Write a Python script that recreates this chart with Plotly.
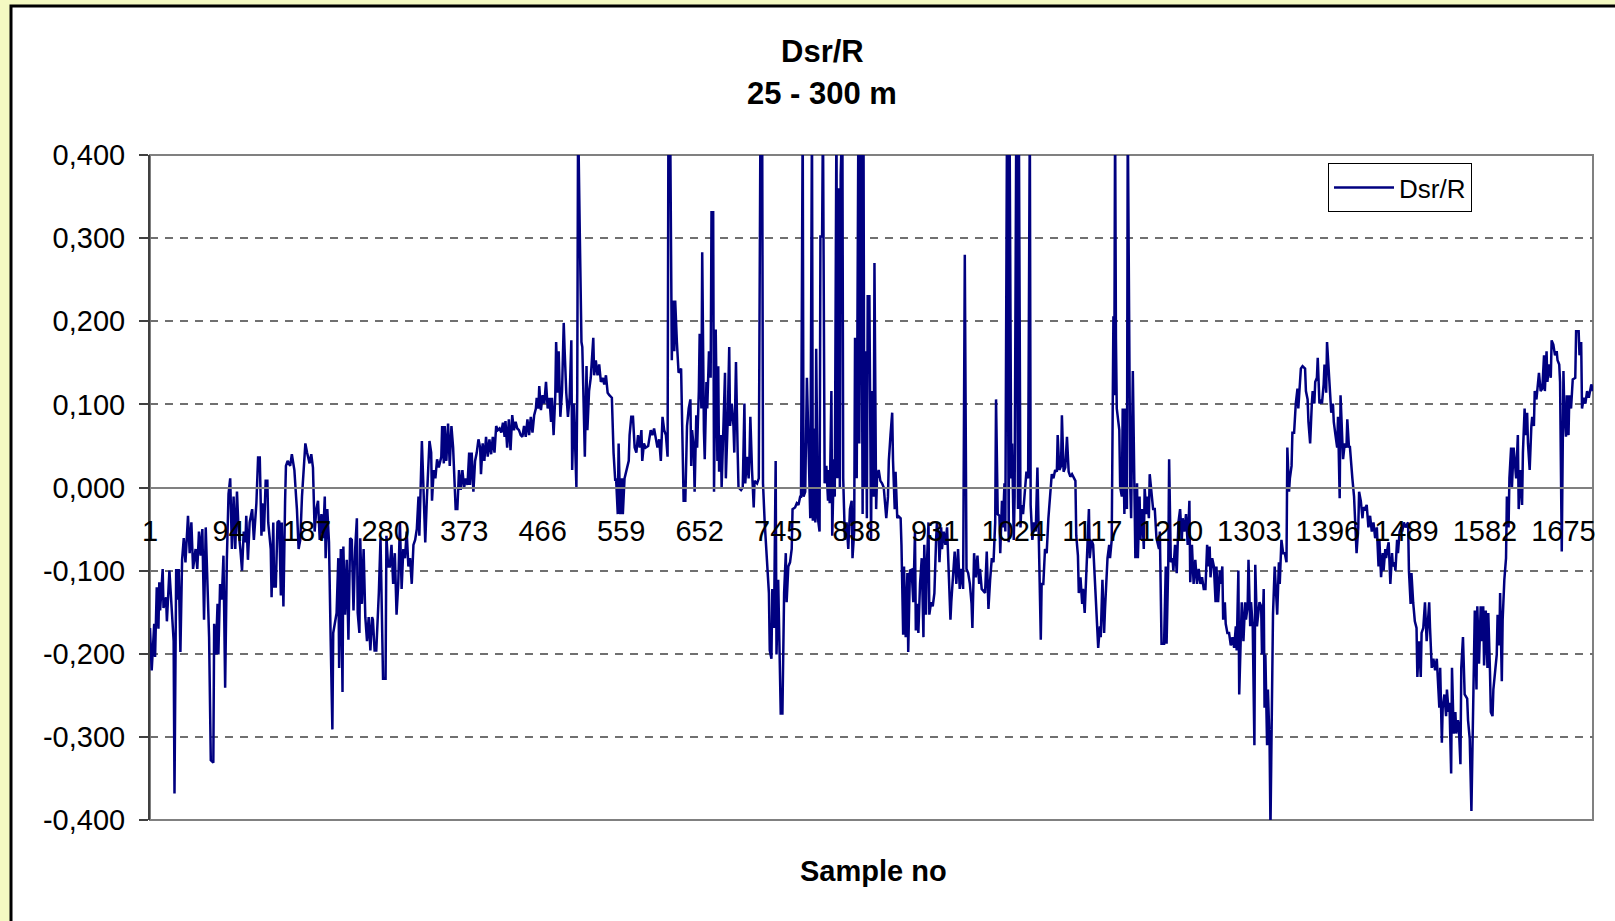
import plotly.graph_objects as go

# ---- data (sample number, Dsr/R value) ----
# values above 0.4 are clipped spikes in the reference
readings = [
(1,-0.169),(3,-0.22),(6,-0.164),(7,-0.204),(9,-0.12),(11,-0.17),(12,-0.114),(13,-0.148),(16,-0.098),(17,-0.145),
(20,-0.132),(21,-0.161),(24,-0.10),(27,-0.159),(29,-0.185),(30,-0.368),(32,-0.098),(34,-0.135),(35,-0.098),(37,-0.198),
(39,-0.087),(41,-0.061),(43,-0.09),(46,-0.034),(48,-0.079),(50,-0.042),(52,-0.098),(55,-0.074),(57,-0.098),(59,-0.053),
(61,-0.082),(63,-0.05),(65,-0.159),(67,-0.048),(70,-0.159),(71,-0.18),(73,-0.328),(76,-0.331),(77,-0.164),(79,-0.201),
(81,-0.14),(82,-0.201),(84,-0.116),(86,-0.135),(88,-0.082),(90,-0.241),(92,-0.087),(94,-0.008),(96,0.011),(98,-0.074),
(100,-0.011),(102,-0.074),(104,-0.005),(106,-0.053),(108,-0.074),(110,-0.10),(112,-0.053),(114,-0.066),(115,-0.034),(117,-0.087),
(119,-0.042),(122,-0.026),(124,-0.063),(127,-0.019),(129,0.036),(131,0.036),(133,-0.058),(134,-0.019),(136,-0.053),(138,0.008),
(140,0.008),(141,-0.042),(144,-0.074),(145,-0.132),(147,-0.042),(148,-0.119),(150,-0.119),(152,-0.042),(154,-0.04),(156,-0.13),
(157,-0.042),(159,-0.143),(161,-0.016),(162,0.026),(164,0.032),(167,0.026),(169,0.04),(172,0.021),(174,-0.011),(175,-0.026),
(177,-0.074),(179,-0.063),(181,-0.011),(183,0.026),(185,0.053),(187,0.042),(190,0.029),(192,0.04),(194,0.024),(196,-0.053),
(198,-0.026),(200,-0.016),(202,-0.063),(204,-0.032),(206,-0.061),(208,-0.011),(209,-0.085),(211,-0.026),(213,-0.066),(215,-0.185),
(217,-0.291),(218,-0.175),(220,-0.164),(222,-0.151),(224,-0.085),(225,-0.217),(227,-0.074),(229,-0.246),(230,-0.071),(232,-0.153),
(234,-0.087),(236,-0.183),(238,-0.061),(240,-0.063),(242,-0.148),(244,-0.074),(246,-0.037),(247,-0.151),(249,-0.175),(250,-0.061),
(252,-0.14),(254,-0.074),(256,-0.156),(258,-0.185),(260,-0.156),(262,-0.196),(264,-0.156),(265,-0.159),(267,-0.196),(269,-0.196),
(272,-0.127),(274,-0.061),(277,-0.23),(280,-0.23),(281,-0.058),(283,-0.095),
(285,-0.095),(287,-0.069),(289,-0.116),(291,-0.079),(293,-0.153),(295,-0.116),(297,-0.042),(299,-0.122),(301,-0.074),(303,-0.085),
(305,-0.053),(307,-0.095),(309,-0.085),(311,-0.116),(313,-0.069),(315,-0.063),(317,-0.05),(319,-0.011),(320,-0.058),(322,0.048),
(323,0.056),(325,-0.005),(327,-0.066),(329,-0.011),(331,0.026),(332,0.056),(334,0.042),(335,-0.016),(337,0.021),(339,0.011),
(341,0.034),(343,0.024),(346,0.037),(347,0.074),(349,0.029),(350,0.074),(352,0.032),(354,0.077),(356,0.026),(358,0.074),
(360,0.048),(362,0.003),(363,-0.026),(365,-0.026),(367,0.021),(369,-0.003),(371,0.021),(373,0.0),(375,0.011),(377,0.003),
(379,0.042),(380,0.003),(382,0.042),(384,-0.005),(386,0.032),(388,0.042),(390,0.058),(392,0.048),(393,0.016),(395,0.053),
(397,0.032),(399,0.061),(401,0.037),(403,0.058),(405,0.04),(407,0.061),(409,0.042),(411,0.074),(413,0.069),(415,0.071),
(417,0.066),(419,0.078),(421,0.061),(422,0.08),(424,0.048),(426,0.082),(428,0.045),(430,0.087),(432,0.069),(434,0.079),
(436,0.071),(438,0.069),(440,0.063),(442,0.061),(444,0.074),(446,0.061),(448,0.082),(450,0.063),(452,0.085),(454,0.066),
(456,0.087),(458,0.095),(459,0.108),(461,0.095),(462,0.122),(464,0.093),(466,0.111),(468,0.101),(470,0.127),(472,0.095),
(474,0.108),(476,0.079),(477,0.108),(479,0.063),(481,0.111),(482,0.175),(484,0.114),(485,0.164),(487,0.085),(489,0.116),
(491,0.198),(492,0.167),(494,0.114),(496,0.085),(498,0.108),(500,0.177),(501,0.021),(503,0.101),(504,0.074),(506,0.0),
(507,0.116),(508,0.45),(510,0.307),(512,0.175),(513,0.169),(516,0.037),(518,0.146),(519,0.069),(521,0.116),(523,0.132),
(526,0.18),(527,0.135),(529,0.153),(531,0.135),(533,0.148),(535,0.127),(537,0.132),(539,0.124),(541,0.135),(543,0.114),
(545,0.111),(548,0.108),(550,0.042),(552,0.008),(553,0.011),(555,-0.032),(556,0.053),(558,-0.032),(560,0.011),(561,-0.032),
(563,0.011),(565,0.021),(568,0.032),(569,0.063),(571,0.085),(573,0.085),(575,0.048),
(577,0.042),(579,0.063),(581,0.048),(583,0.069),(584,0.032),(586,0.053),(588,0.048),(591,0.05),(594,0.069),(596,0.063),
(598,0.071),(600,0.061),(602,0.048),(604,0.058),(606,0.032),(608,0.085),(610,0.069),(612,0.063),(614,0.037),(615,0.45),
(617,0.45),(619,0.153),(620,0.225),(622,0.164),(623,0.225),(625,0.175),(627,0.138),(630,0.143),(631,0.069),(633,-0.016),
(635,-0.016),(637,0.074),(639,0.095),(641,0.106),(642,0.026),(643,0.069),(645,0.048),(646,-0.005),(648,0.087),(649,0.048),
(651,0.116),(652,0.185),(654,0.095),(655,0.283),(657,0.069),(658,0.034),(660,0.127),(661,0.095),(663,0.164),(665,0.132),
(666,0.331),(668,0.331),(669,-0.005),(671,0.19),(673,0.032),(674,0.146),(675,0.019),(677,0.063),(678,0.0),(680,0.063),
(682,0.138),(683,0.011),(685,0.074),(687,0.169),(688,0.074),(690,0.101),(692,0.074),(693,0.042),(695,0.151),(697,0.042),
(698,0.0),(701,-0.003),(703,0.0),(705,0.101),(706,0.005),(708,0.037),(710,0.011),(711,0.037),(712,0.085),(714,0.021),
(716,-0.024),(717,0.008),(720,0.005),(722,0.011),(724,0.45),(726,0.45),(727,0.005),(729,-0.042),(731,-0.079),(734,-0.127),
(735,-0.196),(737,-0.206),(738,-0.122),(740,-0.169),(742,0.032),(743,-0.201),(745,-0.111),(746,-0.169),(748,-0.272),(750,-0.272),
(752,-0.127),(754,-0.079),(755,-0.138),(757,-0.095),(759,-0.09),(761,-0.074),(762,-0.026),(765,-0.024),(767,-0.019),(769,-0.021),
(771,-0.011),(772,-0.011),(774,0.45),(775,-0.011),(777,-0.005),(779,0.132),(781,0.042),(783,-0.037),(785,0.45),(786,-0.04),
(787,0.071),(789,-0.042),(790,0.167),(792,-0.037),(794,-0.053),(795,0.302),(797,0.302),(798,0.45),(800,0.005),(802,0.026),
(804,-0.016),(805,0.021),(806,-0.019),(808,0.116),(809,-0.058),(811,0.034),(812,-0.011),(814,0.45),(815,0.011),(817,0.36),
(818,0.0),(819,0.376),(821,0.45),(822,0.011),(824,-0.063),(826,-0.042),(828,-0.074),(830,-0.026),(832,-0.016),(833,-0.085),
(835,-0.053),(836,0.18),(838,0.011),(840,0.45),(841,0.053),(843,0.45),(845,-0.032),(846,0.45),(847,0.0),(849,0.164),
(850,-0.037),(851,0.23),(853,0.23),(855,-0.063),(856,0.116),(858,-0.011),(859,0.27),(861,-0.026),(862,0.011),(864,0.021),
(866,0.008),(868,0.005),(870,0.0),(872,-0.026),(873,-0.037),(875,-0.011),(876,0.032),(878,0.063),(880,0.09),(881,0.032),
(883,-0.026),(884,0.019),(886,-0.037),(887,-0.034),(890,-0.037),(891,-0.069),(893,-0.177),(894,-0.095),(896,-0.18),(898,-0.103),
(899,-0.198),(901,-0.1),(903,-0.099),(905,-0.138),(907,-0.053),(908,-0.172),(910,-0.14),(911,-0.175),(913,-0.116),(915,-0.085),
(917,-0.18),(918,-0.069),(920,-0.153),(921,-0.095),(923,-0.042),(924,-0.153),(926,-0.138),(928,-0.143),(930,-0.127),(932,-0.063),
(933,-0.042),(935,-0.058),(936,-0.09),(938,-0.048),(939,-0.074),(941,-0.053),(943,-0.069),(945,-0.048),(947,-0.095),(949,-0.159),
(950,-0.138),(952,-0.111),(954,-0.077),(956,-0.116),(958,-0.074),(960,-0.122),(962,-0.098),(964,-0.122),(966,0.28),(968,-0.098),
(970,-0.103),(972,-0.116),(974,-0.14),(975,-0.169),(977,-0.079),(979,-0.108),(981,-0.082),(983,-0.116),(984,-0.098),(986,-0.122),
(988,-0.124),(990,-0.127),(992,-0.077),(994,-0.146),(996,-0.111),(998,-0.085),(1000,-0.09),(1002,-0.042),(1003,0.106),(1005,-0.032),
(1007,-0.034),(1008,-0.079),(1010,-0.016),(1011,-0.048),(1013,0.005),(1014,-0.053),(1016,0.45),(1018,-0.066),(1019,0.45),(1021,0.011),
(1022,0.053),(1024,-0.063),(1025,-0.011),(1027,0.45),(1029,-0.026),(1030,0.45),(1032,-0.048),(1033,-0.021),(1035,-0.032),(1037,0.0),
(1039,0.019),(1041,0.011),(1043,0.45),(1044,-0.021),(1046,-0.063),(1048,-0.042),(1050,-0.053),(1052,0.024),(1054,-0.063),(1056,-0.183),
(1057,-0.116),(1059,-0.116),(1061,-0.074),(1063,-0.079),(1065,-0.037),(1067,-0.005),(1069,0.016),(1071,0.011),(1073,0.021),(1075,0.019),
(1076,0.063),(1078,0.021),(1080,0.026),(1081,0.087),(1083,0.019),(1085,0.024),(1087,0.061),(1089,0.019),(1091,0.013),(1093,0.016),
(1095,0.011),(1097,0.008),(1098,-0.058),(1100,-0.082),(1101,-0.127),(1103,-0.108),(1105,-0.14),(1106,-0.122),(1108,-0.151),(1109,-0.122),
(1111,-0.082),(1113,-0.026),(1114,-0.085),(1116,-0.063),(1118,-0.069),(1120,-0.111),(1122,-0.148),(1124,-0.193),(1126,-0.167),(1127,-0.18),
(1129,-0.111),(1131,-0.175),(1132,-0.148),(1134,-0.1),(1135,-0.085),(1137,-0.069),(1138,-0.085),(1140,-0.063),(1142,0.206),(1143,0.111),
(1144,0.45),(1145,0.18),(1146,0.095),(1149,0.069),(1150,0.0),
(1152,-0.011),(1153,0.095),(1155,-0.032),(1156,0.095),(1158,-0.026),(1159,0.45),(1162,0.0),(1163,-0.037),(1165,0.14),(1166,0.063),
(1168,-0.085),(1170,0.005),(1171,-0.085),(1173,-0.011),(1174,-0.063),(1176,-0.026),(1178,-0.074),(1179,0.0),(1181,-0.032),(1182,-0.011),
(1184,-0.037),(1185,0.016),(1187,-0.011),(1189,-0.026),(1191,-0.026),(1193,-0.061),(1196,-0.074),(1197,-0.053),(1199,-0.188),(1202,-0.188),
(1204,-0.095),(1205,-0.188),(1207,-0.09),(1208,0.034),(1210,-0.09),(1212,-0.085),(1213,-0.1),(1215,-0.069),(1217,-0.103),(1219,-0.042),
(1221,-0.026),(1223,-0.063),(1224,-0.037),(1226,-0.053),(1228,-0.032),(1230,-0.069),(1232,-0.016),(1233,-0.114),(1235,-0.069),(1237,-0.116),
(1239,-0.087),(1241,-0.116),(1243,-0.098),(1245,-0.116),(1247,-0.108),(1249,-0.122),(1251,-0.122),(1253,-0.069),(1254,-0.095),(1256,-0.071),
(1257,-0.108),(1259,-0.085),(1261,-0.095),(1263,-0.138),(1264,-0.095),(1266,-0.138),(1268,-0.1),(1269,-0.116),(1271,-0.095),(1272,-0.159),
(1274,-0.138),(1275,-0.164),(1277,-0.175),(1279,-0.175),(1281,-0.19),(1283,-0.18),(1285,-0.193),(1287,-0.167),(1288,-0.196),(1290,-0.1),
(1291,-0.249),(1293,-0.169),(1294,-0.138),(1296,-0.185),(1298,-0.138),(1299,-0.159),(1301,-0.143),(1302,-0.087),(1304,-0.167),(1305,-0.138),
(1307,-0.167),(1309,-0.31),(1310,-0.093),(1312,-0.167),(1313,-0.159),(1315,-0.138),(1317,-0.143),(1318,-0.201),(1320,-0.122),(1321,-0.265),
(1322,-0.201),(1324,-0.31),(1325,-0.243),(1327,-0.31),(1328,-0.41),(1330,-0.201),(1331,-0.153),(1333,-0.095),(1335,-0.138),(1336,-0.153),
(1338,-0.09),(1339,-0.116),(1341,-0.063),(1343,-0.079),(1345,-0.079),(1347,-0.09),(1348,0.048),(1350,-0.005),(1351,0.011),(1353,0.026),
(1354,0.066),(1356,0.066),(1358,0.101),(1360,0.119),(1361,0.095),(1363,0.122),(1364,0.143),(1366,0.146),(1369,0.143),(1370,0.116),
(1372,0.106),(1373,0.079),(1375,0.053),(1377,0.101),(1378,0.116),(1380,0.101),(1381,0.127),(1383,0.132),(1384,0.156),(1386,0.101),
(1388,0.106),(1389,0.101),(1391,0.124),(1392,0.148),(1394,0.114),(1395,0.175),(1397,0.14),(1399,0.106),(1400,0.09),(1402,0.101),
(1403,0.079),(1405,0.063),(1407,0.048),(1408,0.085),(1410,-0.013),(1411,0.111),(1413,0.058),(1414,0.034),(1416,0.053),(1418,0.048),
(1419,0.082),(1421,0.048),(1422,0.05),(1424,0.019),(1425,0.011),(1427,-0.011),(1429,-0.053),(1430,-0.079),(1432,-0.048),(1433,-0.005),
(1435,-0.016),(1437,-0.037),(1438,-0.024),
(1440,-0.026),(1442,-0.021),(1444,-0.048),(1446,-0.034),(1448,-0.053),(1450,-0.042),(1452,-0.061),(1454,-0.048),(1456,-0.095),(1457,-0.063),
(1459,-0.108),(1461,-0.079),(1462,-0.1),(1464,-0.074),(1465,-0.085),(1467,-0.071),(1468,-0.066),(1470,-0.116),(1472,-0.079),(1473,-0.095),
(1475,-0.09),(1476,-0.1),(1478,-0.063),(1479,-0.079),(1481,-0.053),(1483,-0.048),(1484,-0.053),(1486,-0.042),(1488,-0.048),(1491,-0.042),
(1492,-0.1),(1494,-0.14),(1495,-0.103),(1497,-0.138),(1499,-0.161),(1501,-0.169),(1502,-0.228),(1504,-0.185),(1506,-0.228),(1507,-0.175),
(1509,-0.169),(1511,-0.138),(1513,-0.185),(1514,-0.169),(1516,-0.138),(1517,-0.169),(1519,-0.217),(1521,-0.206),(1523,-0.22),(1525,-0.206),
(1526,-0.233),(1528,-0.265),(1529,-0.217),(1531,-0.307),(1532,-0.265),(1534,-0.249),(1536,-0.275),(1537,-0.243),(1539,-0.27),(1540,-0.259),
(1542,-0.344),(1543,-0.217),(1545,-0.296),(1547,-0.27),(1548,-0.296),(1550,-0.28),(1551,-0.286),(1553,-0.333),(1554,-0.217),(1556,-0.18),
(1558,-0.249),(1559,-0.251),(1561,-0.254),(1562,-0.28),(1564,-0.302),(1566,-0.389),(1567,-0.317),(1569,-0.233),(1570,-0.148),(1572,-0.243),
(1573,-0.143),(1575,-0.212),(1577,-0.143),(1578,-0.185),(1580,-0.143),(1581,-0.214),(1583,-0.148),(1585,-0.217),(1586,-0.151),(1588,-0.222),
(1589,-0.27),(1591,-0.275),(1592,-0.243),(1594,-0.222),(1596,-0.201),(1597,-0.153),(1599,-0.19),(1600,-0.127),(1602,-0.233),(1603,-0.159),
(1605,-0.111),(1607,-0.085),(1608,-0.011),(1610,-0.048),(1611,0.011),(1613,0.048),(1614,0.0),(1616,0.048),(1618,0.021),(1619,0.011),
(1621,0.063),(1622,-0.026),(1624,0.021),(1626,-0.021),(1627,0.042),(1629,0.095),(1630,0.063),(1632,0.09),(1633,0.053),(1635,0.021),
(1637,0.074),(1638,0.085),(1640,0.074),(1641,0.116),(1643,0.106),(1645,0.124),(1646,0.138),(1648,0.116),(1650,0.119),(1652,0.159),
(1653,0.116),(1655,0.164),(1656,0.127),(1658,0.148),(1660,0.132),(1661,0.177),(1663,0.172),(1665,0.159),(1667,0.164),(1668,0.153),
(1670,0.148),(1671,0.127),(1673,-0.077),(1675,0.14),(1676,0.095),(1678,0.061),(1679,0.111),(1681,0.063),(1682,0.111),(1684,0.095),
(1686,0.13),(1689,0.132),(1690,0.188),(1693,0.188),(1694,0.159),(1696,0.175),(1697,0.095),(1699,0.108),(1701,0.101),(1703,0.116),
(1705,0.108),(1708,0.124),(1710,0.116),
]
sample_no = [r[0] for r in readings]
dsr_r = [r[1] for r in readings]

x_tick_vals = [1, 94, 187, 280, 373, 466, 559, 652, 745, 838, 931, 1024, 1117, 1210, 1303, 1396, 1489, 1582, 1675]
x_tick_text = [str(v) for v in x_tick_vals]
y_tick_vals = [-0.4, -0.3, -0.2, -0.1, 0.0, 0.1, 0.2, 0.3, 0.4]
y_tick_text = ["-0,400", "-0,300", "-0,200", "-0,100", "0,000", "0,100", "0,200", "0,300", "0,400"]

FONT = "Liberation Sans, Arial, sans-serif"
W, H = 1615, 921
L, R, T, B = 150, 22, 155, 101
PW, PH = W - L - R, H - T - B

def px_x(p):
    return (p - L) / PW

def px_y(p):
    return (H - B - p) / PH

fig = go.Figure()
fig.add_trace(go.Scatter(
    x=sample_no, y=dsr_r, mode="lines", name="Dsr/R",
    line=dict(color="#000080", width=2.5),
))

fig.update_layout(
    width=W, height=H, autosize=False,
    margin=dict(l=L, r=R, t=T, b=B),
    paper_bgcolor="#F4F9C2",
    plot_bgcolor="rgba(0,0,0,0)",
    font=dict(family=FONT, color="black", size=29),
    showlegend=True,
    legend=dict(
        x=px_x(1328), y=px_y(163), xanchor="left", yanchor="top",
        bgcolor="white", bordercolor="black", borderwidth=1,
        itemwidth=60,
        font=dict(size=26, family=FONT),
    ),
    xaxis=dict(
        range=[1, 1710], anchor="free", position=0.5,
        tickmode="array", tickvals=x_tick_vals, ticktext=x_tick_text,
        showgrid=False, zeroline=False,
        showline=True, linecolor="#808080", linewidth=2,
        ticks="", ticklabelstandoff=18,
        tickfont=dict(size=29, family=FONT),
    ),
    yaxis=dict(
        range=[-0.4, 0.4],
        tickmode="array", tickvals=y_tick_vals, ticktext=y_tick_text,
        showgrid=True, gridcolor="#707070", gridwidth=1.5, griddash="8px,7px",
        zeroline=False,
        showline=True, linecolor="#404040", linewidth=2,
        ticks="outside", ticklen=9, tickcolor="#404040", tickwidth=2,
        ticklabelstandoff=8,
        tickfont=dict(size=29, family=FONT),
    ),
    shapes=[
        dict(type="rect", xref="paper", yref="paper",
             x0=px_x(11), x1=px_x(1640), y0=px_y(940), y1=px_y(6),
             fillcolor="white", line=dict(color="black", width=3), layer="below"),
        dict(type="rect", xref="paper", yref="paper",
             x0=0, x1=1, y0=0, y1=1,
             fillcolor="rgba(0,0,0,0)", line=dict(color="#808080", width=2), layer="below"),
    ],
    annotations=[
        dict(text="<b>Dsr/R</b>", xref="paper", yref="paper", x=px_x(822), y=px_y(51),
             xanchor="center", yanchor="middle", showarrow=False, font=dict(size=31, family=FONT)),
        dict(text="<b>25 - 300 m</b>", xref="paper", yref="paper", x=px_x(822), y=px_y(93),
             xanchor="center", yanchor="middle", showarrow=False, font=dict(size=31, family=FONT)),
        dict(text="<b>Sample no</b>", xref="paper", yref="paper", x=px_x(873), y=px_y(871),
             xanchor="center", yanchor="middle", showarrow=False, font=dict(size=29, family=FONT)),
    ],
)

fig.write_html(
    "out.html",
    config={"displayModeBar": False},
    post_script="document.body.style.margin='0';document.body.style.overflow='hidden';",
)
